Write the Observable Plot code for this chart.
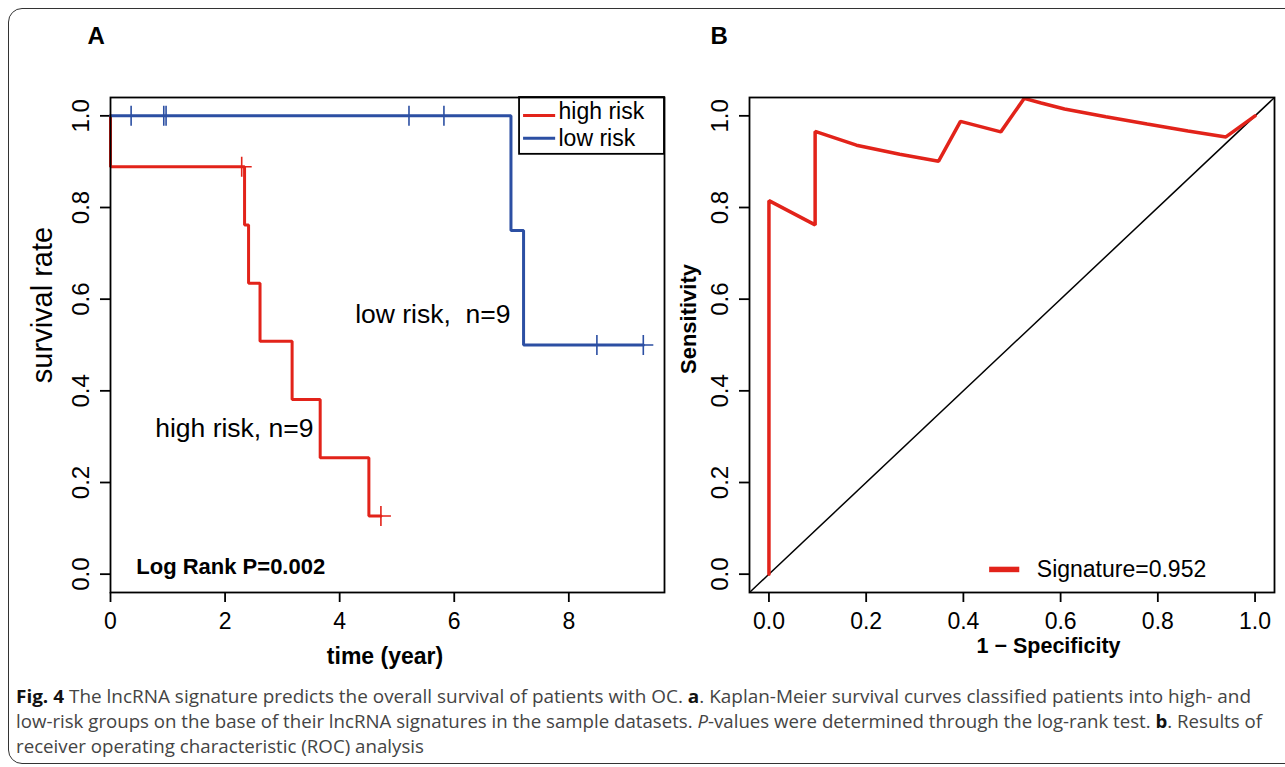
<!DOCTYPE html>
<html>
<head>
<meta charset="utf-8">
<script src="https://cdn.jsdelivr.net/npm/d3@7"></script>
<script src="https://cdn.jsdelivr.net/npm/@observablehq/plot@0.6"></script>
<style>
  body { margin: 0; background: #fff; }
  #root { position: relative; width: 1285px; height: 767px; overflow: hidden; background: #fff; }
  #frame { position: absolute; left: 8px; top: 8px; width: 1300px; height: 756px; border: 1.6px solid #333; border-radius: 14px; box-sizing: border-box; }
  .panel { position: absolute; top: 0; }
  .cap { position: absolute; left: 16px; white-space: nowrap; font-family: "Open Sans", "Noto Sans", sans-serif; font-size: 18px; font-weight: 400; line-height: 25px; color: #444; transform-origin: 0 50%; }
  .cap b { color: #111; font-weight: 700; }
</style>
</head>
<body>
<div id="root">
  <div id="frame"></div>
  <div id="panelA" class="panel" style="left:0px"></div>
  <div id="panelB" class="panel" style="left:660px"></div>
  <div class="cap" id="cap1" style="top:684px"><b>Fig. 4</b> The lncRNA signature predicts the overall survival of patients with OC. <b>a</b>. Kaplan-Meier survival curves classified patients into high- and</div>
  <div class="cap" id="cap2" style="top:709px">low-risk groups on the base of their lncRNA signatures in the sample datasets. <i>P</i>-values were determined through the log-rank test. <b>b</b>. Results of</div>
  <div class="cap" id="cap3" style="top:734px">receiver operating characteristic (ROC) analysis</div>
</div>
<script>
const FONT = '"Liberation Sans", Arial, Helvetica, sans-serif';
const RED = "#e2231a";
const BLUE = "#2c4fa3";

// ---------- Panel A: Kaplan-Meier ----------
const highTimes = [0, 0, 2.34, 2.41, 2.61, 3.17, 3.66, 4.51, 4.72];
const highSurv  = [1.0, 0.889, 0.762, 0.635, 0.508, 0.381, 0.254, 0.127, 0.127];
const lowTimes  = [0, 6.99, 7.21, 9.30];
const lowSurv   = [1.0, 0.75, 0.50, 0.50];
const highCensorTimes = [2.29, 4.72];
const highCensorSurv  = [0.889, 0.127];
const lowCensorTimes  = [0.36, 0.93, 0.97, 5.21, 5.82, 8.49, 9.30];
const lowCensorSurv   = [1, 1, 1, 1, 1, 0.5, 0.5];
const groupNames  = ["high risk", "low risk"];
const groupColors = [RED, BLUE];
const timeTicks = [0, 2, 4, 6, 8];
const rateTicks = [0, 0.2, 0.4, 0.6, 0.8, 1.0];
const annotA = ["high risk, n=9", "low risk,\u00a0 n=9"];
const pText = "Log Rank P=0.002";

// ---------- Panel B: ROC ----------
const fpr = [0, 0, 0.095, 0.095, 0.18, 0.269, 0.349, 0.394, 0.477, 0.525, 0.56, 0.608, 0.693, 0.778, 0.862, 0.94, 1.0];
const tpr = [0, 0.815, 0.762, 0.966, 0.936, 0.916, 0.901, 0.988, 0.965, 1.038, 1.028, 1.015, 0.998, 0.982, 0.967, 0.954, 1.0];
const refDiag = [-0.04, 1.04];
const specTicks = [0, 0.2, 0.4, 0.6, 0.8, 1.0];
const sensTicks = [0, 0.2, 0.4, 0.6, 0.8, 1.0];
const aucLabel = "Signature=0.952";

const zip = (a, b) => a.map((v, i) => ({x: v, y: b[i]}));
const high = zip(highTimes, highSurv);
const low = zip(lowTimes, lowSurv);
const highC = zip(highCensorTimes, highCensorSurv);
const lowC = zip(lowCensorTimes, lowCensorSurv);
const roc = zip(fpr, tpr);

// legend placement (data units of panel A)
const legA = {x1: 7.14, x2: 9.67, y1: 0.916, y2: 1.04, lx1: 7.21, lx2: 7.77, tx: 7.82, ys: [1.001, 0.951], ty: [1.009, 0.950]};
const legendRows = groupNames.map((n, i) => ({name: n, color: groupColors[i], y: legA.ys[i], ty: legA.ty[i]}));

const fmt1 = d3.format(".1f");

const plotA = Plot.plot({
  width: 680, height: 680,
  marginLeft: 110, marginRight: 16, marginTop: 97, marginBottom: 88,
  style: {background: "transparent", overflow: "visible", fontFamily: FONT, color: "#000"},
  x: {domain: [0, 9.67]},
  y: {domain: [-0.04, 1.04]},
  marks: [
    Plot.axisX({ticks: timeTicks, tickSize: 10, tickPadding: 10, fontSize: 23, tickFormat: d3.format("d"), strokeWidth: 1.8, label: null}),
    Plot.axisY({ticks: rateTicks, tickSize: 10, tickPadding: 12, tickRotate: -90, fontSize: 24, tickFormat: fmt1, strokeWidth: 1.8, label: null}),
    Plot.line(high, {x: "x", y: "y", curve: "step-after", stroke: RED, strokeWidth: 3, strokeLinejoin: "miter"}),
    Plot.line(low, {x: "x", y: "y", curve: "step-after", stroke: BLUE, strokeWidth: 3, strokeLinejoin: "miter"}),
    Plot.dot(highC, {x: "x", y: "y", symbol: "plus", r: 6.5, stroke: RED, fill: "none", strokeWidth: 1.6}),
    Plot.dot(lowC, {x: "x", y: "y", symbol: "plus", r: 6.5, stroke: BLUE, fill: "none", strokeWidth: 1.6}),
    Plot.rect([0], {x1: legA.x1, x2: legA.x2, y1: legA.y1, y2: legA.y2, fill: "white", stroke: "#000", strokeWidth: 1.8}),
    Plot.ruleY(legendRows, {y: "y", x1: legA.lx1, x2: legA.lx2, stroke: "color", strokeWidth: 3}),
    Plot.text(legendRows, {x: legA.tx, y: "ty", text: "name", textAnchor: "start", lineAnchor: "middle", fontSize: 23}),
    Plot.text([annotA[0]], {x: 0.78, y: 0.30, text: d => d, textAnchor: "start", lineAnchor: "bottom", fontSize: 26.5}),
    Plot.text([annotA[1]], {x: 4.27, y: 0.549, text: d => d, textAnchor: "start", lineAnchor: "bottom", fontSize: 26.5}),
    Plot.text([pText], {x: 0.45, y: 0.0, text: d => d, textAnchor: "start", lineAnchor: "bottom", fontSize: 22, fontWeight: "bold"}),
    Plot.frame({stroke: "#000", strokeWidth: 1.8}),
    Plot.text(["time (year)"], {frameAnchor: "bottom", text: d => d, textAnchor: "middle", lineAnchor: "bottom", dx: -2.5, dy: 71, fontSize: 23, fontWeight: "bold"}),
    Plot.text(["survival rate"], {frameAnchor: "left", text: d => d, rotate: -90, textAnchor: "middle", lineAnchor: "top", dx: -79, dy: -40, fontSize: 29}),
    Plot.text(["A"], {frameAnchor: "top-left", text: d => d, textAnchor: "start", lineAnchor: "bottom", dx: -23, dy: -54, fontSize: 24, fontWeight: "bold"})
  ]
});
document.getElementById("panelA").appendChild(plotA);

const plotB = Plot.plot({
  width: 625, height: 680,
  marginLeft: 89, marginRight: 11, marginTop: 97, marginBottom: 88,
  style: {background: "transparent", overflow: "visible", fontFamily: FONT, color: "#000"},
  x: {domain: [-0.04, 1.04]},
  y: {domain: [-0.04, 1.04]},
  marks: [
    Plot.axisX({ticks: specTicks, tickSize: 10, tickPadding: 10, fontSize: 23, tickFormat: fmt1, strokeWidth: 1.8, label: null}),
    Plot.axisY({ticks: sensTicks, tickSize: 10, tickPadding: 12, tickRotate: -90, fontSize: 24, tickFormat: fmt1, strokeWidth: 1.8, label: null}),
    Plot.link([refDiag], {x1: d => d[0], y1: d => d[0], x2: d => d[1], y2: d => d[1], stroke: "#000", strokeWidth: 1.5}),
    Plot.line(roc, {x: "x", y: "y", stroke: RED, strokeWidth: 3.5, strokeLinejoin: "miter", clip: true}),
    Plot.ruleY([0.0103], {x1: 0.454, x2: 0.516, stroke: RED, strokeWidth: 5.5}),
    Plot.text([aucLabel], {x: 0.551, y: 0.0103, text: d => d, textAnchor: "start", lineAnchor: "middle", fontSize: 23}),
    Plot.frame({stroke: "#000", strokeWidth: 1.8}),
    Plot.text(["1 \u2212 Specificity"], {frameAnchor: "bottom", text: d => d, textAnchor: "middle", lineAnchor: "bottom", dx: 36.5, dy: 60, fontSize: 21.5, fontWeight: "bold"}),
    Plot.text(["Sensitivity"], {frameAnchor: "left", text: d => d, rotate: -90, textAnchor: "middle", lineAnchor: "top", dx: -69, dy: -26, fontSize: 22, fontWeight: "bold"}),
    Plot.text(["B"], {frameAnchor: "top-left", text: d => d, textAnchor: "start", lineAnchor: "bottom", dx: -39, dy: -54, fontSize: 24, fontWeight: "bold"})
  ]
});
document.getElementById("panelB").appendChild(plotB);

// fit each caption line horizontally to the reference measure
const capTargets = {cap1: 1251 - 16, cap2: 1262 - 16, cap3: 424 - 16};
Object.entries(capTargets).forEach(([id, target]) => {
  const el = document.getElementById(id);
  const w = el.getBoundingClientRect().width;
  el.style.transform = `scaleX(${target / w})`;
});
</script>
</body>
</html>
